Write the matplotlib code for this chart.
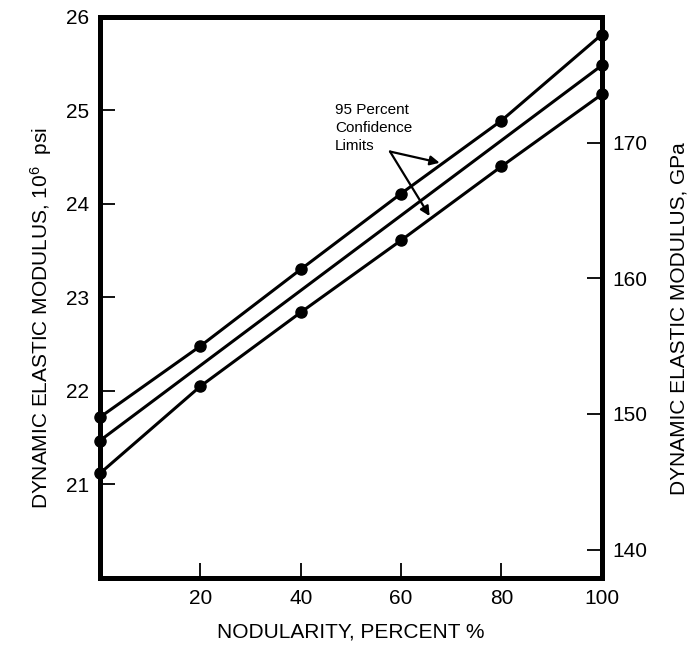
import matplotlib.pyplot as plt
import matplotlib

matplotlib.rcParams['font.family'] = ['Liberation Sans', 'DejaVu Sans']
matplotlib.rcParams['mathtext.default'] = 'regular'

# nodularity, percent
x_pts = [0, 20, 40, 60, 80, 100]
x_mid = [0, 100]

# dynamic elastic modulus, 10^6 psi
upper = [21.72, 22.48, 23.30, 24.11, 24.89, 25.81]
lower = [21.12, 22.05, 22.84, 23.61, 24.40, 25.17]
middle = [21.47, 25.48]

x_ticks = [20, 40, 60, 80, 100]
y_ticks = [21, 22, 23, 24, 25, 26]
gpa_ticks = [140, 150, 160, 170]
PSI_TO_GPA = 6.895

note_lines = ["95 Percent", "Confidence", "Limits"]

fig = plt.figure(figsize=(6.9, 6.48), dpi=100)
ax = fig.add_axes([0.145, 0.108, 0.727, 0.866])

line_kw = dict(color="black", lw=2.2, marker="o", ms=8, clip_on=False, zorder=5)
ax.plot(x_pts, upper, **line_kw)
ax.plot(x_pts, lower, **line_kw)
ax.plot(x_mid, middle, **line_kw)

ax.set_xlim(0, 100)
ax.set_ylim(20, 26)
ax.set_xticks(x_ticks)
ax.set_yticks(y_ticks)
ax.tick_params(direction="in", length=11, width=1.3, labelsize=15, pad=8)
for s in ax.spines.values():
    s.set_linewidth(3.6)

ax.set_xlabel("NODULARITY, PERCENT %", fontsize=15, labelpad=10)
ax.set_ylabel("DYNAMIC ELASTIC MODULUS, 10$^{6}$  psi", fontsize=15, labelpad=12)
ax.yaxis.set_label_coords(-0.092, 0.463)

# right axis in GPa
ax2 = ax.twinx()
ax2.set_ylim(20, 26)
ax2.set_yticks([g / PSI_TO_GPA for g in gpa_ticks])
ax2.set_yticklabels([str(g) for g in gpa_ticks])
ax2.tick_params(direction="in", length=11, width=1.3, labelsize=15, pad=8)
for s in ax2.spines.values():
    s.set_linewidth(3.6)
ax2.set_ylabel("DYNAMIC ELASTIC MODULUS, GPa", fontsize=15)
ax2.yaxis.set_label_coords(1.136, 0.463)

# confidence limits note, left aligned
for i, txt in enumerate(note_lines):
    ax.text(46.8, 24.957 - 0.192 * i, txt, fontsize=11, ha="left", va="baseline")
arrow_kw = dict(arrowstyle="-|>", color="black", lw=1.6, mutation_scale=14,
                shrinkA=0, shrinkB=0)
ax.annotate("", xy=(67.7, 24.44), xytext=(57.8, 24.56), arrowprops=arrow_kw)
ax.annotate("", xy=(65.7, 23.87), xytext=(57.8, 24.56), arrowprops=arrow_kw)

plt.savefig("out.png", dpi=100)
